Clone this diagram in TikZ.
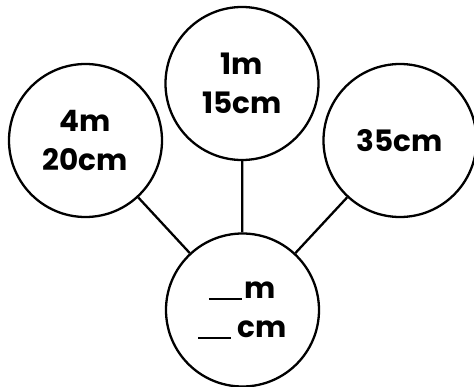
\documentclass[tikz,border=0pt]{standalone}
\usepackage{fontspec}
\setmainfont{Poppins}
\newcommand{\blankline}[1]{\rule[-1.5pt]{#1}{1.6pt}}
\begin{document}
\begin{tikzpicture}[x=1pt,y=-1pt,
  bubble/.style={circle,draw=black,line width=2.3pt,minimum size=153pt,inner sep=0pt,align=center,
    font=\fontsize{29.5}{39}\selectfont\bfseries},
  link/.style={draw=black,line width=2.3pt}]
\useasboundingbox (0,0) rectangle (474,386);
\node[bubble] (L) at (85.5,140.5) {4m\\20cm};
\node[bubble] (T) at (242,83.5) {1m\\15cm};
\node[bubble] (R) at (400,140.5) {35cm};
\node[bubble] (B) at (242.5,310) {\blankline{33pt}\hspace{3pt}m\\\blankline{33pt}\hspace{6pt}cm};
\draw[link] (L) -- (B);
\draw[link] (T) -- (B);
\draw[link] (R) -- (B);
\end{tikzpicture}
\end{document}
